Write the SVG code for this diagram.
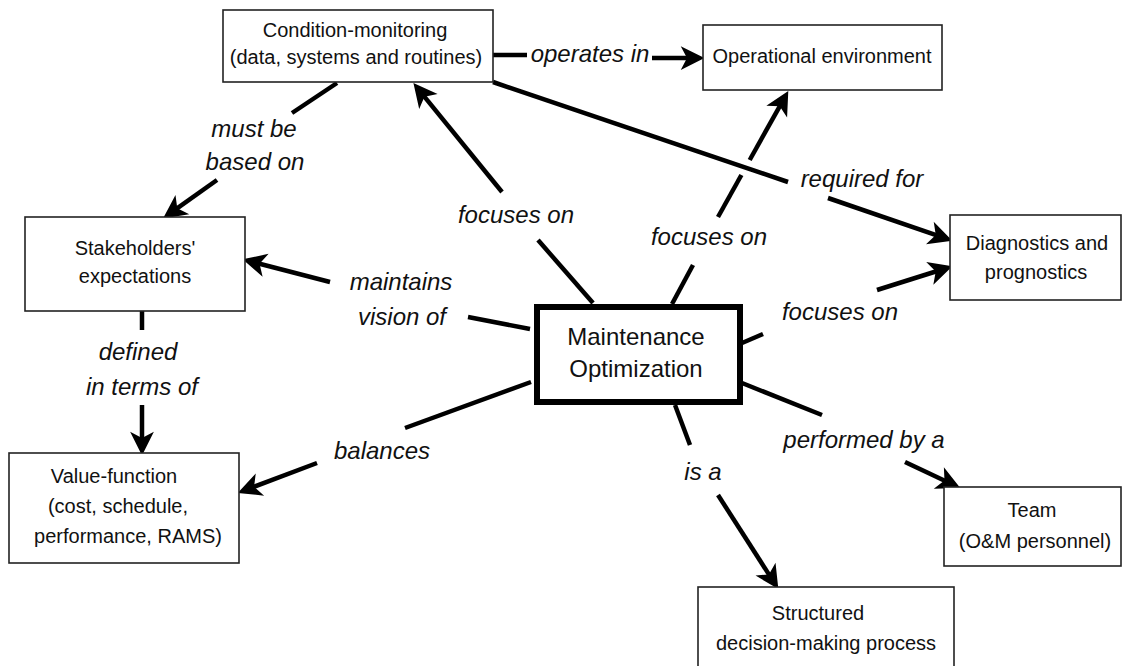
<svg xmlns="http://www.w3.org/2000/svg" width="1123" height="666" viewBox="0 0 1123 666">
  <style>
    .box { fill: #ffffff; stroke: #222222; stroke-width: 1.6; }
    .core { fill: #ffffff; stroke: #000000; stroke-width: 6; }
    .node { font-family: "Liberation Sans", Arial, sans-serif; font-size: 20px; fill: #111111; text-anchor: middle; }
    .core-text { font-family: "Liberation Sans", Arial, sans-serif; font-size: 24px; fill: #111111; text-anchor: middle; }
    .rel { font-family: "Liberation Sans", Arial, sans-serif; font-size: 24px; font-style: italic; fill: #111111; text-anchor: middle; }
    .edge { fill: none; stroke: #000000; stroke-width: 4.5; }
    .arrow { marker-end: url(#head); }
  </style>
  <defs>
    <marker id="head" markerUnits="userSpaceOnUse" markerWidth="30" markerHeight="30" refX="0" refY="0" viewBox="-12 -12 24 24" orient="auto" overflow="visible">
      <path d="M10,0 L-9,-9.5 L-4,0 L-9,9.5 Z" fill="#000000"/>
    </marker>
  </defs>

  <rect width="1123" height="666" fill="#ffffff"/>

  <!-- relations between the concepts -->
  <g id="connectors">
    <!-- operates in -->
    <line class="edge" x1="493" y1="55" x2="527" y2="55"/>
    <line class="edge arrow" x1="652" y1="58" x2="692" y2="58"/>
    <!-- must be based on -->
    <line class="edge" x1="337" y1="83" x2="292" y2="113"/>
    <line class="edge arrow" x1="217" y1="180" x2="173.2" y2="211.2"/>
    <!-- focuses on (condition-monitoring) -->
    <line class="edge" x1="593" y1="303" x2="538" y2="240"/>
    <line class="edge arrow" x1="502" y1="192" x2="421.3" y2="92.8"/>
    <!-- maintains vision of -->
    <line class="edge" x1="530" y1="329" x2="468" y2="317"/>
    <line class="edge arrow" x1="330" y1="282" x2="254.7" y2="262.5"/>
    <!-- defined in terms of -->
    <line class="edge" x1="142" y1="311" x2="142" y2="330"/>
    <line class="edge arrow" x1="142" y1="405" x2="142" y2="443"/>
    <!-- balances -->
    <line class="edge" x1="531" y1="382" x2="405" y2="428"/>
    <line class="edge arrow" x1="317" y1="463" x2="249.4" y2="488.5"/>
    <!-- focuses on (operational environment), broken where it crosses "required for" -->
    <line class="edge" x1="672" y1="304" x2="693" y2="265"/>
    <line class="edge" x1="718" y1="217" x2="741.4" y2="175"/>
    <line class="edge arrow" x1="749.7" y1="160" x2="782.2" y2="101.8"/>
    <!-- required for -->
    <line class="edge" x1="493" y1="82" x2="788" y2="182"/>
    <line class="edge arrow" x1="828" y1="198" x2="940.5" y2="236.7"/>
    <!-- focuses on (diagnostics) -->
    <line class="edge" x1="742" y1="343" x2="763" y2="334"/>
    <line class="edge arrow" x1="877" y1="290" x2="940.5" y2="270"/>
    <!-- performed by a -->
    <line class="edge" x1="742" y1="383" x2="822" y2="415"/>
    <line class="edge arrow" x1="905" y1="462" x2="949" y2="482.7"/>
    <!-- is a -->
    <line class="edge" x1="675" y1="405" x2="690" y2="445"/>
    <line class="edge arrow" x1="718" y1="495" x2="771.6" y2="578.6"/>
  </g>

  <g id="relation-labels">
    <text class="rel" x="590" y="62">operates in</text>
    <text class="rel" x="254" y="137">must be</text>
    <text class="rel" x="255" y="170">based on</text>
    <text class="rel" x="516" y="223">focuses on</text>
    <text class="rel" x="401" y="290">maintains</text>
    <text class="rel" x="402" y="325">vision of</text>
    <text class="rel" x="138" y="360">defined</text>
    <text class="rel" x="142" y="395">in terms of</text>
    <text class="rel" x="382" y="459">balances</text>
    <text class="rel" x="709" y="245">focuses on</text>
    <text class="rel" x="862" y="187">required for</text>
    <text class="rel" x="840" y="320">focuses on</text>
    <text class="rel" x="864" y="448">performed by a</text>
    <text class="rel" x="703" y="480">is a</text>
  </g>

  <g id="condition-monitoring">
    <rect class="box" x="223" y="10" width="270" height="72"/>
    <text class="node" x="355" y="37">Condition-monitoring</text>
    <text class="node" x="356" y="64">(data, systems and routines)</text>
  </g>

  <g id="operational-environment">
    <rect class="box" x="703" y="25" width="239" height="65"/>
    <text class="node" x="822" y="63">Operational environment</text>
  </g>

  <g id="stakeholders-expectations">
    <rect class="box" x="25" y="217" width="220" height="94"/>
    <text class="node" x="135" y="255">Stakeholders'</text>
    <text class="node" x="135" y="283">expectations</text>
  </g>

  <g id="value-function">
    <rect class="box" x="9" y="453" width="230" height="110"/>
    <text class="node" x="114" y="483">Value-function</text>
    <text class="node" x="118" y="513">(cost, schedule,</text>
    <text class="node" x="128" y="543">performance, RAMS)</text>
  </g>

  <g id="maintenance-optimization">
    <rect class="core" x="537" y="307" width="203" height="95"/>
    <text class="core-text" x="636" y="345">Maintenance</text>
    <text class="core-text" x="636" y="377">Optimization</text>
  </g>

  <g id="diagnostics-prognostics">
    <rect class="box" x="950" y="215" width="171" height="85"/>
    <text class="node" x="1037" y="250">Diagnostics and</text>
    <text class="node" x="1036" y="279">prognostics</text>
  </g>

  <g id="team">
    <rect class="box" x="944" y="487" width="177" height="79"/>
    <text class="node" x="1032" y="517">Team</text>
    <text class="node" x="1035" y="548">(O&amp;M personnel)</text>
  </g>

  <g id="structured-decision-making">
    <rect class="box" x="698" y="587" width="256" height="100"/>
    <text class="node" x="818" y="620">Structured</text>
    <text class="node" x="826" y="650">decision-making process</text>
  </g>
</svg>
